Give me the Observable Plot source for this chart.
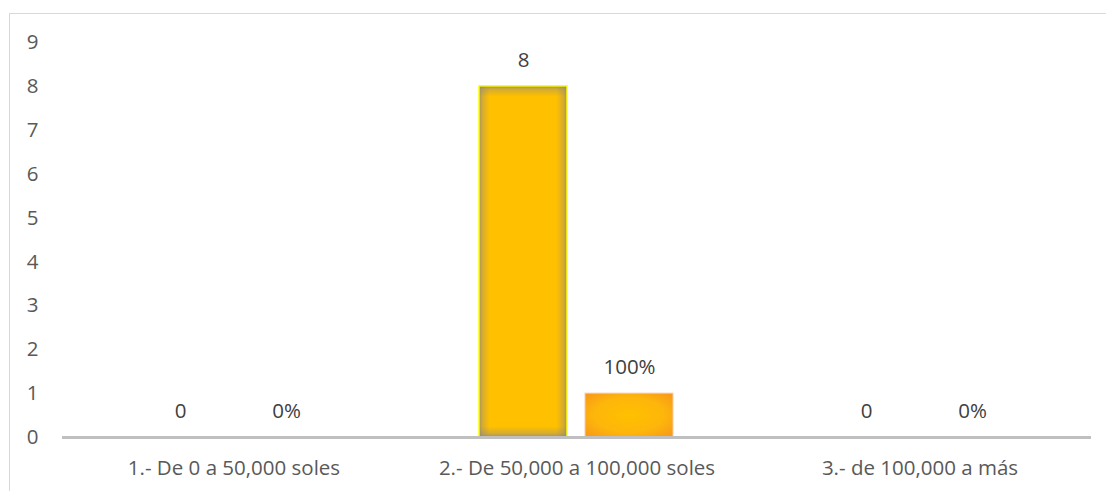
<!DOCTYPE html>
<html>
<head>
<meta charset="utf-8">
<script src="https://cdn.jsdelivr.net/npm/d3@7"></script>
<script src="https://cdn.jsdelivr.net/npm/@observablehq/plot@0.6"></script>
<style>
  html, body { margin: 0; padding: 0; background: #fff; }
  #wrap { position: relative; width: 1106px; height: 491px; overflow: hidden; }
  #border { position: absolute; left: 9px; top: 13px; right: -2px; bottom: -2px;
            border-top: 1px solid #d9d9d9; border-left: 1px solid #d9d9d9; pointer-events: none; }
  svg { display: block; }
</style>
</head>
<body>
<div id="wrap"><div id="border"></div></div>
<script>
const categories = ["1.- De 0 a 50,000 soles", "2.- De 50,000 a 100,000 soles", "3.- de 100,000 a más"];
const seriesNames = ["Frecuencia", "Porcentaje"];
const counts = [0, 8, 0];
const percents = [0, 1, 0];
const yTicks = [0, 1, 2, 3, 4, 5, 6, 7, 8, 9];

const rows = [];
categories.forEach((c, i) => {
  rows.push({category: c, series: seriesNames[0], value: counts[i], label: String(counts[i])});
  rows.push({category: c, series: seriesNames[1], value: percents[i], label: Math.round(percents[i] * 100) + "%"});
});
const countRows = rows.filter(d => d.series === seriesNames[0] && d.value > 0);
const pctRows = rows.filter(d => d.series === seriesNames[1] && d.value > 0);

const font = "'Open Sans', sans-serif";

const chart = Plot.plot({
  width: 1106,
  height: 491,
  marginLeft: 62,
  marginRight: 15,
  marginTop: 42,
  marginBottom: 54,
  style: {fontFamily: font, fontSize: "20.5px", color: "#595959", background: "transparent"},
  fx: {domain: categories, padding: 0, label: null, axis: "bottom", tickSize: 0, tickPadding: 23},
  x: {domain: seriesNames, paddingInner: 0.168, paddingOuter: 0.687, axis: null},
  y: {domain: [0, 9], ticks: yTicks, label: null, tickSize: 0, tickPadding: 24, tickFormat: d => String(d)},
  marks: [
    Plot.barY(countRows, {fx: "category", x: "series", y: "value", fill: "#FFC000"}),
    Plot.barY(countRows, {fx: "category", x: "series", y: "value", fill: "url(#shadeH)"}),
    Plot.barY(countRows, {fx: "category", x: "series", y: "value", fill: "url(#shadeV)", stroke: "#FFFF00", strokeWidth: 1.5}),
    Plot.barY(pctRows, {fx: "category", x: "series", y: "value", fill: "url(#orangeRad)", stroke: "#F8CBAD", strokeWidth: 1}),
    Plot.ruleY([0], {stroke: "#BFBFBF", strokeWidth: 3}),
    Plot.text(rows, {fx: "category", x: "series", y: "value", text: "label", dy: -26,
                     fill: "#404040", fontSize: 20.5, fontFamily: font})
  ]
});

const svg = d3.select(chart);
const defs = svg.insert("defs", ":first-child");
const h = defs.append("linearGradient").attr("id", "shadeH").attr("x1", 0).attr("x2", 1).attr("y1", 0).attr("y2", 0);
[[0, 0.75], [0.04, 0.35], [0.12, 0], [0.88, 0], [0.96, 0.35], [1, 0.75]].forEach(([o, a]) =>
  h.append("stop").attr("offset", o).attr("stop-color", "#858585").attr("stop-opacity", a));
const v = defs.append("linearGradient").attr("id", "shadeV").attr("x1", 0).attr("x2", 0).attr("y1", 0).attr("y2", 1);
[[0, 0.75], [0.01, 0.35], [0.03, 0], [0.97, 0], [0.99, 0.35], [1, 0.75]].forEach(([o, a]) =>
  v.append("stop").attr("offset", o).attr("stop-color", "#858585").attr("stop-opacity", a));
const r = defs.append("radialGradient").attr("id", "orangeRad").attr("cx", 0.5).attr("cy", 0.5).attr("r", 0.72);
[[0, "#FFC000"], [0.55, "#FDB60A"], [1, "#F7941D"]].forEach(([o, c]) =>
  r.append("stop").attr("offset", o).attr("stop-color", c));

svg.select("[aria-label='fx-axis tick label']").attr("fill", "#595959");
svg.select("[aria-label='y-axis tick label']").attr("fill", "#595959");

document.getElementById("wrap").prepend(chart);
</script>
</body>
</html>
